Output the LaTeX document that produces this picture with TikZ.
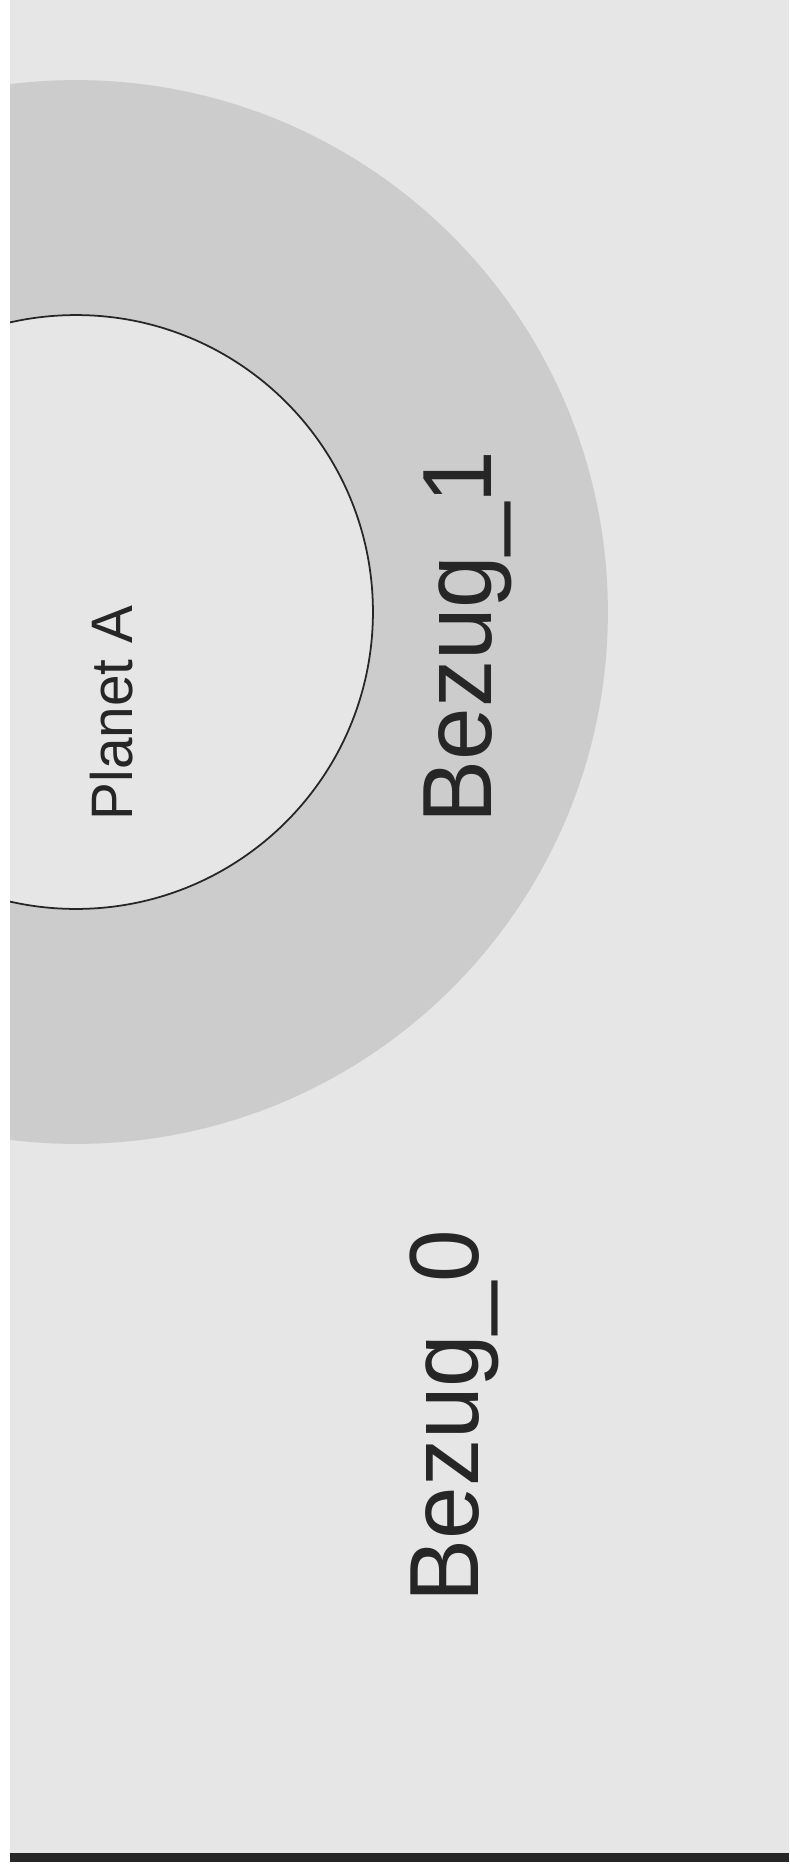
\documentclass[tikz,border=0pt]{standalone}
\usepackage{fontspec}
\setmainfont{Liberation Sans}
\newfontfamily\labelfont[FakeStretch=0.96]{Liberation Sans}
\newfontfamily\planetfont[FakeStretch=0.97]{Liberation Sans}
\definecolor{bgray}{HTML}{E6E6E6}
\definecolor{rgray}{HTML}{CCCCCC}
\definecolor{ink}{HTML}{262626}
\begin{document}
\begin{tikzpicture}[x=0.02cm, y=-0.02cm]
      \useasboundingbox (0,0) rectangle (789,1872);
      \begin{scope}
        \clip (10,0) rectangle (789,1853);
        \fill[bgray] (10,0) rectangle (789,1853);
        % shell and planet body
        \fill[rgray] (76,612) circle (10.64cm);
        \filldraw[fill=bgray, draw=ink, line width=1pt] (76,612) circle (5.94cm);
      \end{scope}
      \fill[ink] (10,1853) rectangle (789,1862);
      \node[rotate=90, anchor=base, inner sep=0, text=ink,
        font=\planetfont\fontsize{33.3pt}{36pt}\selectfont] (planet) at (132,713) {Planet A};
      \node[rotate=90, anchor=base, inner sep=0, text=ink,
        font=\labelfont\fontsize{56pt}{60pt}\selectfont] (bezug1) at (491,637) {Bezug\_1};
      \node[rotate=90, anchor=base, inner sep=0, text=ink,
        font=\labelfont\fontsize{56pt}{60pt}\selectfont] (bezug0) at (478,1416) {Bezug\_0};
    \end{tikzpicture}
\end{document}
